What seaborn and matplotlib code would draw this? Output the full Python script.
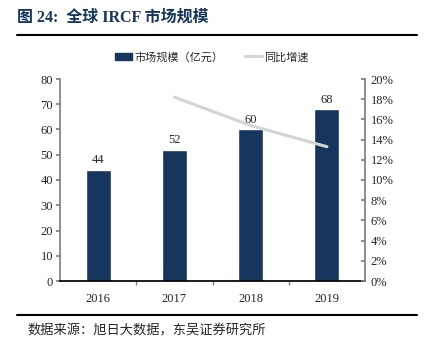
import numpy as np
import pandas as pd
import matplotlib
matplotlib.use("Agg")
import matplotlib.pyplot as plt
import seaborn as sns
from matplotlib.lines import Line2D
from matplotlib.patches import Patch

# -----------------------------
# DATA
# -----------------------------
years = ["2016", "2017", "2018", "2019"]
market_size = [44, 52, 60, 68]
growth_years = ["2017", "2018", "2019"]
growth_rate = [0.182, 0.154, 0.133]

sns.set_theme(style="white")
plt.rcParams["font.family"] = ["Liberation Serif", "Noto Sans CJK SC", "DejaVu Sans"]

cjk = ["Noto Sans CJK SC", "DejaVu Sans"]
bar_color = "#17365d"
line_color = "#d4d4d4"

df = pd.DataFrame({"year": years, "size": market_size})

fig = plt.figure(figsize=(4.24, 3.53), dpi=100)
ax = fig.add_axes([60 / 424, 72 / 353, 305 / 424, 202 / 353])

sns.barplot(data=df, x="year", y="size", color=bar_color, width=0.33,
            saturation=1, ax=ax)
ax.set_xlim(-0.5, 3.5)
ax.set_ylim(0, 80)
ax.set_yticks(range(0, 81, 10))
ax.set_xticks([0.5, 1.5, 2.5], minor=True)
ax.set_xlabel("")
ax.set_ylabel("")

for i, v in enumerate(market_size):
    ax.text(i, v + 1.5, str(v), ha="center", va="bottom", fontsize=9,
            family="Liberation Serif")

# -----------------------------
# GROWTH LINE (right axis)
# -----------------------------
ax2 = ax.twinx()
gx = [years.index(y) for y in growth_years]
sns.lineplot(x=gx, y=growth_rate, color=line_color, linewidth=2.2, ax=ax2)
ax2.set_ylim(0, 0.20)
ax2.set_yticks(np.arange(0, 0.201, 0.02))
ax2.set_yticklabels([f"{int(round(t * 100))}%" for t in np.arange(0, 0.201, 0.02)])
ax.set_xlim(-0.5, 3.5)

ax.spines["top"].set_visible(False)
ax2.spines["top"].set_visible(False)
ax.spines["right"].set_visible(False)
ax2.spines["left"].set_visible(False)
ax2.spines["bottom"].set_visible(False)
ax.spines["left"].set_color("#808080")
ax2.spines["right"].set_color("#808080")
ax.spines["bottom"].set_color("black")

ax.tick_params(axis="y", left=True, length=3, color="#808080", labelsize=9, pad=2)
ax.tick_params(axis="x", which="major", bottom=False, labelsize=9, pad=3)
ax.tick_params(axis="x", which="minor", bottom=True, length=3, color="#808080")
ax2.tick_params(axis="y", right=True, direction="in", length=3, color="#808080",
                labelsize=9, pad=4)

for lbl in ax.get_xticklabels() + ax.get_yticklabels() + ax2.get_yticklabels():
    lbl.set_family("Liberation Serif")

# -----------------------------
# LEGEND
# -----------------------------
handles = [Patch(facecolor=bar_color, edgecolor=bar_color),
           Line2D([0], [0], color=line_color, linewidth=2.2)]
fig.legend(handles, ["市场规模（亿元）", "同比增速"], loc="center",
           bbox_to_anchor=(0.5, 1 - 57 / 353), ncol=2, frameon=False,
           prop={"family": cjk, "size": 8}, handlelength=1.5,
           handletextpad=0.2, columnspacing=2.0)

# -----------------------------
# TITLE / FRAME LINES / SOURCE
# -----------------------------
fig.text(17 / 424, 1 - 18 / 353, "图 24:  全球 IRCF 市场规模", fontsize=11.5,
         fontweight="bold", color="#17365d", va="center",
         family=["Liberation Serif", "Noto Sans CJK SC", "DejaVu Sans"])
fig.add_artist(Line2D([17 / 424, 417 / 424], [1 - 35 / 353, 1 - 35 / 353],
                      color="black", linewidth=1.5))
fig.add_artist(Line2D([17 / 424, 417 / 424], [1 - 315 / 353, 1 - 315 / 353],
                      color="black", linewidth=1.5))
fig.text(27 / 424, 1 - 331 / 353, "数据来源：旭日大数据，东吴证券研究所", fontsize=9.5,
         va="center", family=cjk)

fig.savefig("out.png", dpi=100)
plt.close(fig)
